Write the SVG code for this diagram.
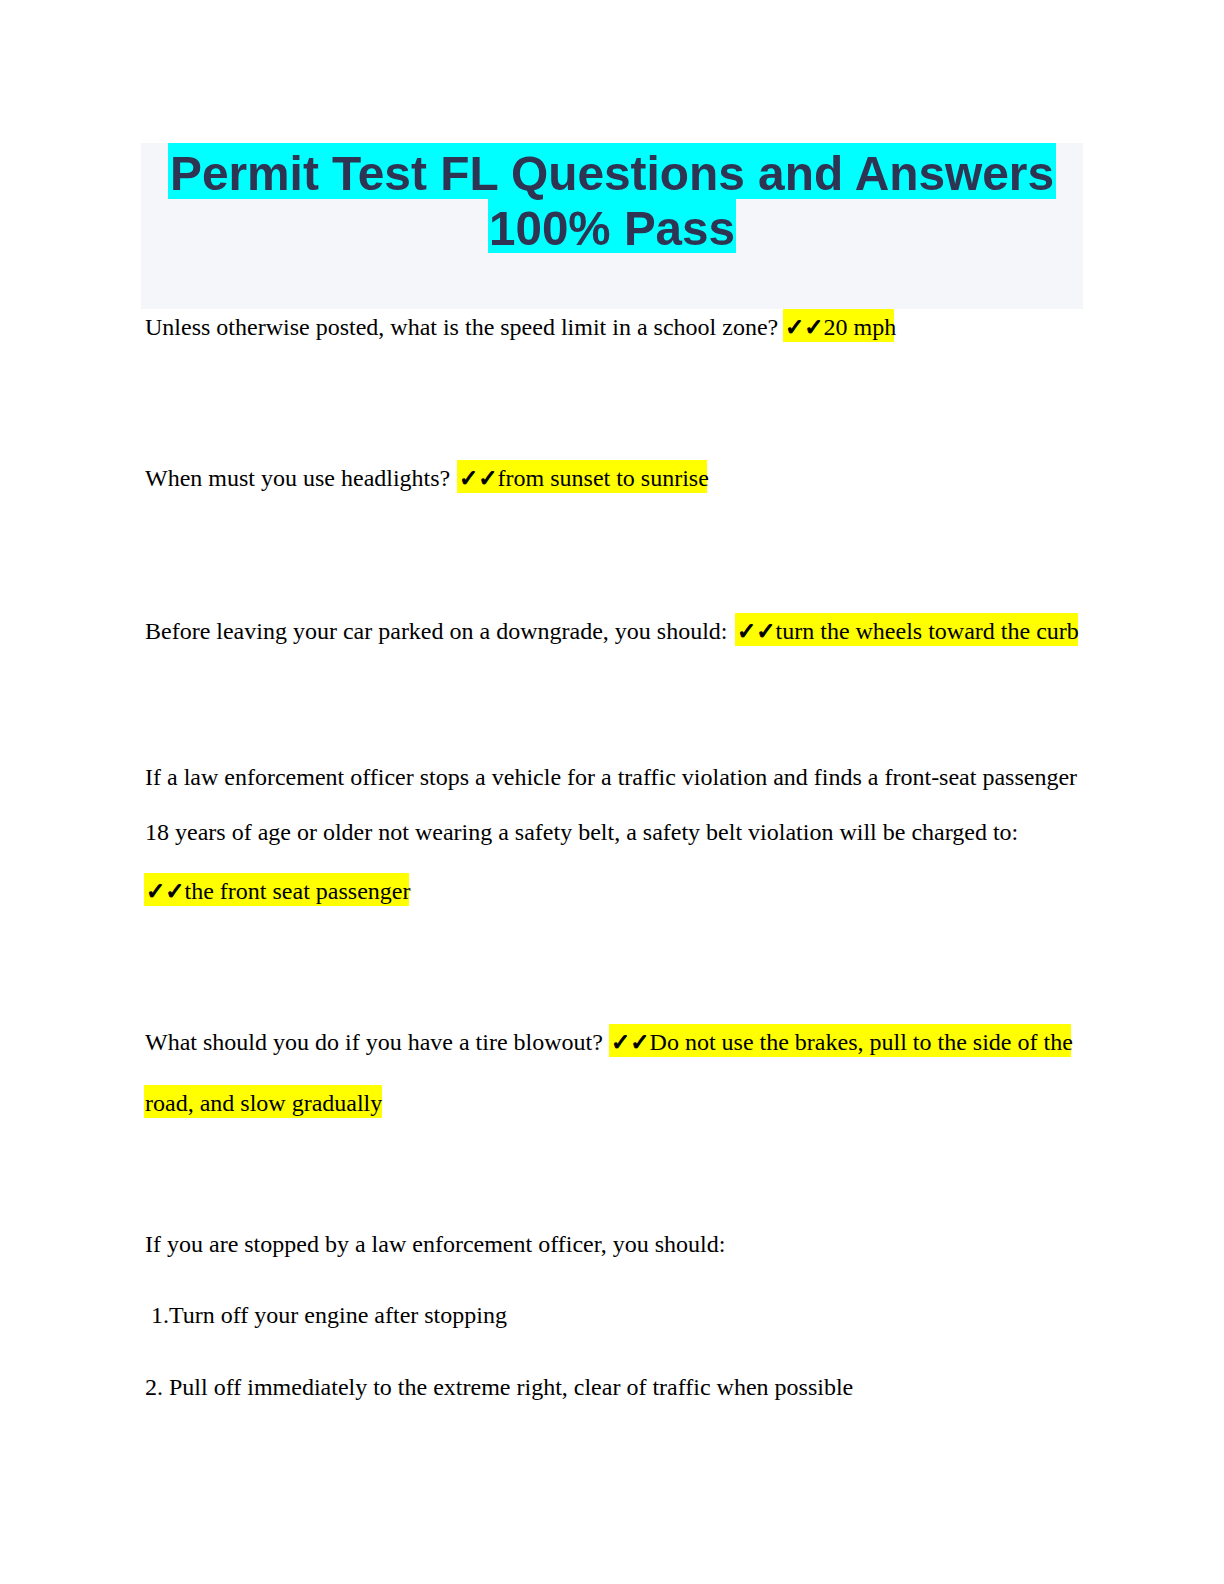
<svg xmlns="http://www.w3.org/2000/svg" width="1224" height="1584" viewBox="0 0 1224 1584">
<style>
.t{font-family:"Liberation Serif","Times New Roman",serif;font-size:24px;fill:#000}
.ck{font-family:"DejaVu Sans",sans-serif;font-weight:bold;font-size:23px;stroke:#000;stroke-width:1.1;stroke-linejoin:round}
.hl{fill:#ffff00}
.ti{font-family:"Liberation Sans",Arial,sans-serif;font-weight:bold;font-size:48.5px;fill:#2e3452;text-anchor:middle}
</style>
<rect width="1224" height="1584" fill="#ffffff"/>
<g id="title">
<rect x="141" y="143" width="942" height="166" fill="#f5f6fa"/>
<rect x="168" y="143" width="888" height="56" fill="#00ffff"/>
<rect x="488" y="199" width="248" height="54" fill="#00ffff"/>
<text class="ti" x="612" y="190" textLength="884" lengthAdjust="spacingAndGlyphs">Permit Test FL Questions and Answers</text>
<text class="ti" x="612" y="244.5" textLength="246" lengthAdjust="spacingAndGlyphs">100% Pass</text>
</g>
<g id="q1">
<rect class="hl" x="783" y="309" width="111" height="33"/>
<text class="t" x="145" y="335">Unless otherwise posted, what is the speed limit in a school zone?</text>
<text class="t" x="785" y="335"><tspan class="ck">✓✓</tspan>20 mph</text>
</g>
<g id="q2">
<rect class="hl" x="457" y="460" width="250" height="33"/>
<text class="t" x="145" y="486">When must you use headlights?</text>
<text class="t" x="459" y="486"><tspan class="ck">✓✓</tspan>from sunset to sunrise</text>
</g>
<g id="q3">
<rect class="hl" x="735" y="613" width="343" height="33"/>
<text class="t" x="145" y="639">Before leaving your car parked on a downgrade, you should:</text>
<text class="t" x="737" y="639"><tspan class="ck">✓✓</tspan>turn the wheels toward the curb</text>
</g>
<g id="q4">
<text class="t" x="145" y="785">If a law enforcement officer stops a vehicle for a traffic violation and finds a front-seat passenger</text>
<text class="t" x="145" y="840">18 years of age or older not wearing a safety belt, a safety belt violation will be charged to:</text>
<rect class="hl" x="144" y="873" width="265" height="33"/>
<text class="t" x="146" y="899"><tspan class="ck">✓✓</tspan>the front seat passenger</text>
</g>
<g id="q5">
<rect class="hl" x="609" y="1024" width="462" height="33"/>
<text class="t" x="145" y="1050">What should you do if you have a tire blowout?</text>
<text class="t" x="611" y="1050"><tspan class="ck">✓✓</tspan>Do not use the brakes, pull to the side of the</text>
<rect class="hl" x="144" y="1085" width="238" height="33"/>
<text class="t" x="145" y="1111">road, and slow gradually</text>
</g>
<g id="q6">
<text class="t" x="145" y="1252">If you are stopped by a law enforcement officer, you should:</text>
<text class="t" x="151" y="1323">1.Turn off your engine after stopping</text>
<text class="t" x="145" y="1395">2. Pull off immediately to the extreme right, clear of traffic when possible</text>
</g>
</svg>
